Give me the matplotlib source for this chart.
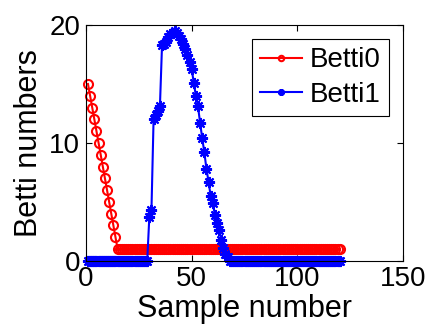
import numpy as np
import matplotlib
matplotlib.use('Agg')
import matplotlib.pyplot as plt

plt.rcParams['font.family'] = ['Liberation Sans', 'DejaVu Sans']

# sample numbers
samples = list(range(1, 121))

# Betti0: drops by one per sample, then flat at 1
betti0 = [15, 14, 13, 12, 11, 10, 9, 8, 7, 6, 5, 4, 3, 2, 1] + [1] * 105

# Betti1: zero, a bump around sample 42, then zero again
betti1_bump = [3.75, 4.3, 12.0, 12.4, 12.7, 13.1, 18.3, 18.4, 18.6, 19.0,
               19.2, 19.3, 19.5, 19.3, 19.1, 18.8, 18.4, 18.0, 17.5, 16.9,
               16.3, 15.1, 14.0, 13.1, 11.7, 10.4, 9.2, 7.8, 6.7, 5.5,
               4.9, 3.9, 3.2, 2.6, 1.8, 1.1, 0.6, 0.3]
betti1 = [0] * 29 + betti1_bump + [0] * (120 - 29 - len(betti1_bump))

fig = plt.figure(figsize=(4.45, 3.34), dpi=100)
ax = fig.add_axes([0.193, 0.219, 0.713, 0.706])

ax.plot(samples, betti0, '-o', color='r', lw=1.5, ms=6.5, mfc='none', mew=1.5,
        label='Betti0', clip_on=False)
# matlab style asterisk marker
ax.plot(samples, betti1, '-', marker=(8, 2, 0), color='b', lw=1.5, ms=8,
        mew=1.5, label='Betti1', clip_on=False)

ax.set_xlim(0, 150)
ax.set_ylim(0, 20)
ax.set_xticks([0, 50, 100, 150])
ax.set_yticks([0, 10, 20])
ax.tick_params(direction='in', top=True, right=True, length=4, width=0.8,
               labelsize=20, pad=4)
ax.set_xlabel('Sample number', fontsize=22, labelpad=1)
ax.set_ylabel('Betti numbers', fontsize=22, labelpad=4)

leg = ax.legend(loc='upper right', fontsize=20, fancybox=False, framealpha=1,
                edgecolor='k', handlelength=1.5, handletextpad=0.3,
                borderpad=0.3, labelspacing=0.3, borderaxespad=0.5,
                markerscale=0.6)
leg.get_frame().set_linewidth(0.8)

fig.savefig('out.png', dpi=100)
